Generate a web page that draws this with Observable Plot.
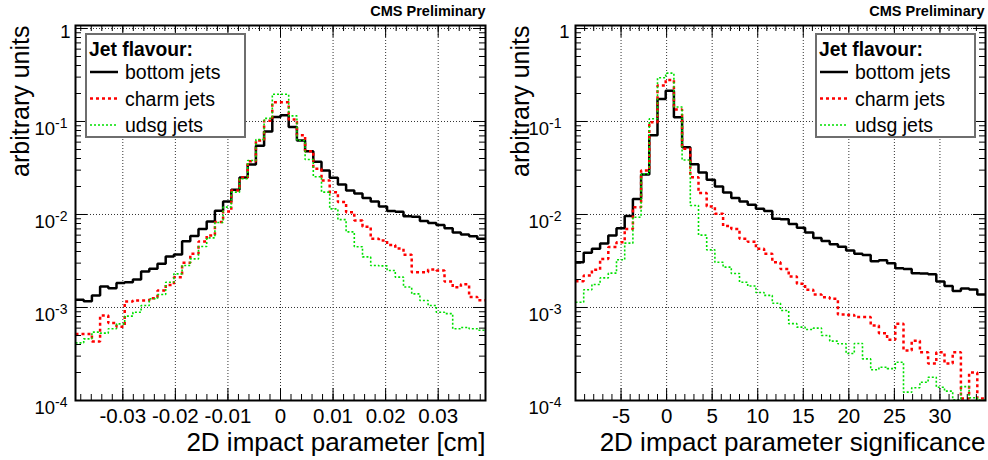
<!DOCTYPE html>
<html><head><meta charset="utf-8">
<script src="https://cdn.jsdelivr.net/npm/d3@7"></script>
<script src="https://cdn.jsdelivr.net/npm/@observablehq/plot@0.6"></script>
<style>
body{margin:0;background:#fff;}
#wrap{display:flex;width:988px;height:460px;font-family:"Liberation Sans",Arial,Helvetica,sans-serif;}
.panel{position:relative;width:494px;height:460px;}
</style></head><body><div id="wrap"></div>
<script>
// ---------- data ----------
const seriesNames = ["bottom jets", "charm jets", "udsg jets"];
const legendTitle = "Jet flavour:";
const cmsLabel = "CMS Preliminary";
const yTitle = "arbitrary units";

// left panel: 2D impact parameter [cm], 50 bins in [-0.039, 0.039]
const ipRange = [-0.039, 0.039];
const ipBins = 50;
const ipTitle = "2D impact parameter [cm]";
const ipTicks = [-0.03, -0.02, -0.01, 0, 0.01, 0.02, 0.03];
const ipTickLabels = ["-0.03", "-0.02", "-0.01", "0", "0.01", "0.02", "0.03"];
const ipBottom = [1.21e-3,1.17e-3,1.35e-3,1.68e-3,1.61e-3,1.83e-3,1.87e-3,2.0e-3,2.44e-3,2.61e-3,
  2.95e-3,3.53e-3,3.71e-3,5.16e-3,5.89e-3,7.0e-3,8.4e-3,1.1e-2,1.38e-2,1.84e-2,
  2.5e-2,3.45e-2,5.5e-2,7.8e-2,0.112,0.117,8.7e-2,6.25e-2,4.8e-2,3.68e-2,
  2.97e-2,2.48e-2,2.1e-2,1.81e-2,1.68e-2,1.5e-2,1.38e-2,1.22e-2,1.09e-2,1.07e-2,
  9.6e-3,9.45e-3,8.5e-3,8.1e-3,7.7e-3,7.1e-3,6.4e-3,6.1e-3,5.85e-3,5.47e-3];
const ipCharm = [5.2e-4,5.2e-4,4.3e-4,8.2e-4,6.8e-4,6.2e-4,1.16e-3,1.19e-3,1.19e-3,1.26e-3,
  1.52e-3,1.75e-3,2.12e-3,3.02e-3,3.78e-3,5.13e-3,5.94e-3,8.28e-3,1.08e-2,1.81e-2,
  2.5e-2,3.74e-2,6.25e-2,0.102,0.161,0.161,0.105,7.1e-2,4.8e-2,3.1e-2,
  2.32e-2,1.74e-2,1.36e-2,1.06e-2,8.6e-3,7.4e-3,5.47e-3,5.25e-3,4.7e-3,4.3e-3,
  3.7e-3,2.4e-3,2.4e-3,2.57e-3,2.5e-3,1.9e-3,1.65e-3,1.78e-3,1.3e-3,1.2e-3];
const ipUdsg = [4.17e-4,4.6e-4,5.43e-4,5.3e-4,5.9e-4,6.67e-4,8.07e-4,8.9e-4,1.05e-3,1.24e-3,
  1.38e-3,1.87e-3,2.3e-3,2.83e-3,3.33e-3,4.53e-3,5.6e-3,8.2e-3,1.2e-2,1.74e-2,
  2.42e-2,3.81e-2,6.4e-2,0.108,0.196,0.196,0.115,6.25e-2,3.9e-2,2.55e-2,
  1.74e-2,1.15e-2,8.8e-3,6.5e-3,4.5e-3,3.5e-3,2.83e-3,2.8e-3,2.5e-3,2.12e-3,
  1.66e-3,1.4e-3,1.19e-3,1.05e-3,8.9e-4,8.6e-4,5.9e-4,6.1e-4,5.9e-4,5.7e-4];

// right panel: 2D impact parameter significance, 50 bins in [-10, 35]
const sigRange = [-10, 35];
const sigBins = 50;
const sigTitle = "2D impact parameter significance";
const sigTicks = [-5, 0, 5, 10, 15, 20, 25, 30];
const sigTickLabels = ["-5", "0", "5", "10", "15", "20", "25", "30"];
const sigBottom = [3.07e-3,3.87e-3,4.27e-3,4.88e-3,5.94e-3,7.13e-3,9.65e-3,1.47e-2,2.7e-2,7.1e-2,
  0.175,0.214,0.111,5.3e-2,3.47e-2,2.82e-2,2.37e-2,2.0e-2,1.72e-2,1.5e-2,
  1.38e-2,1.27e-2,1.15e-2,1.09e-2,9.0e-3,8.9e-3,7.9e-3,7.2e-3,6.4e-3,5.6e-3,
  5.2e-3,4.8e-3,4.5e-3,4.1e-3,3.78e-3,3.68e-3,3.15e-3,3.22e-3,3.0e-3,2.65e-3,
  2.6e-3,2.33e-3,2.32e-3,2.28e-3,1.9e-3,1.7e-3,1.5e-3,1.6e-3,1.56e-3,1.38e-3];
const sigCharm = [1.92e-3,2.21e-3,2.54e-3,3.33e-3,4.46e-3,5.04e-3,7.0e-3,1.2e-2,2.97e-2,9.84e-2,
  0.244,0.28,0.135,5.08e-2,2.52e-2,1.7e-2,1.22e-2,1.02e-2,7.5e-3,7.0e-3,
  5.47e-3,5.1e-3,4.27e-3,3.78e-3,3.07e-3,2.6e-3,2.15e-3,1.8e-3,1.55e-3,1.38e-3,
  1.29e-3,1.24e-3,8.4e-4,8.3e-4,7.9e-4,7.9e-4,6.4e-4,5.3e-4,4.5e-4,6.7e-4,
  3.45e-4,4.4e-4,3.3e-4,2.5e-4,3.3e-4,2.5e-4,3.3e-4,1.05e-4,2.0e-4,1.05e-4];
const sigUdsg = [1.14e-3,1.55e-3,1.77e-3,2.08e-3,2.34e-3,3.26e-3,4.92e-3,9.35e-3,2.74e-2,0.107,
  0.295,0.331,0.143,3.85e-2,1.25e-2,6.0e-3,4.17e-3,3.07e-3,2.72e-3,2.32e-3,
  1.87e-3,1.7e-3,1.45e-3,1.35e-3,1.11e-3,9.3e-4,6.7e-4,6.15e-4,5.8e-4,6.0e-4,
  5.0e-4,4.35e-4,4.07e-4,3.2e-4,4.1e-4,2.8e-4,2.14e-4,2.28e-4,2.2e-4,2.58e-4,
  1.23e-4,1.37e-4,1.57e-4,1.78e-4,1.39e-4,1.26e-4,1.02e-4,1.41e-4,1.07e-4,1.01e-4];

const yTicks = [1e-4, 1e-3, 1e-2, 1e-1, 1];
const yTickLabels = ["10^-4", "10^-3", "10^-2", "10^-1", "1"];

// ---------- styles ----------
const FONT = '"Liberation Sans", Arial, Helvetica, sans-serif';
const styles = [
  {stroke: "#000000", strokeWidth: 2.5, dash: null},
  {stroke: "#ff0000", strokeWidth: 2.5, dash: "3,3"},
  {stroke: "#00e000", strokeWidth: 1.6, dash: "2,2"}
];
const NS = "http://www.w3.org/2000/svg";

function histData(range, nb, values) {
  const w = (range[1] - range[0]) / nb;
  const pts = values.map((v, i) => ({x: range[0] + i * w, y: v}));
  pts.push({x: range[1], y: values[values.length - 1]});
  return pts;
}

function panel(cfg) {
  const W = 494, H = 460, mt = 25, mb = 60;
  const iw = W - cfg.ml - cfg.mr, ih = H - mt - mb;
  const majLen = 12, minLen = 6;
  const yMinor = [1e-4, 1e-3, 1e-2, 1e-1].flatMap(d => d3.range(2, 10).map(k => k * d));
  const labelMap = new Map(cfg.ticks.map((t, i) => [t, cfg.tickLabels[i]]));
  const yLabelMap = new Map(yTicks.map((t, i) => [t, yTickLabels[i]]));
  const tickStyle = {stroke: "black", strokeWidth: 1};
  const marks = [
    Plot.gridX(cfg.ticks, {stroke: "#333", strokeOpacity: 1, strokeWidth: 1, strokeDasharray: "1,2"}),
    Plot.gridY(yTicks, {stroke: "#333", strokeOpacity: 1, strokeWidth: 1, strokeDasharray: "1,2"}),
    ...cfg.series.map((vals, k) => Plot.line(histData(cfg.range, cfg.bins, vals), {
      x: "x", y: "y", curve: "step-after", clip: true,
      stroke: styles[k].stroke, strokeWidth: styles[k].strokeWidth,
      strokeDasharray: styles[k].dash, strokeLinejoin: "miter", strokeLinecap: "butt"
    })),
    // inward ticks on all four sides
    Plot.tickY(yTicks, {y: d => d, insetRight: iw - majLen, ...tickStyle}),
    Plot.tickY(yMinor, {y: d => d, insetRight: iw - minLen, ...tickStyle}),
    Plot.tickY(yTicks, {y: d => d, insetLeft: iw - majLen, ...tickStyle}),
    Plot.tickY(yMinor, {y: d => d, insetLeft: iw - minLen, ...tickStyle}),
    Plot.tickX(cfg.ticks, {x: d => d, insetTop: ih - majLen, ...tickStyle}),
    Plot.tickX(cfg.minor, {x: d => d, insetTop: ih - minLen, ...tickStyle}),
    Plot.tickX(cfg.ticks, {x: d => d, insetBottom: ih - majLen, ...tickStyle}),
    Plot.tickX(cfg.minor, {x: d => d, insetBottom: ih - minLen, ...tickStyle}),
    Plot.frame({stroke: "black", strokeWidth: 2}),
    // tick labels
    Plot.text(cfg.ticks, {x: d => d, text: d => labelMap.get(d), frameAnchor: "bottom", dy: 7.5, lineAnchor: "top", fontSize: 20.5}),
    Plot.text(yTicks, {y: d => d, text: d => yLabelMap.get(d), frameAnchor: "left", textAnchor: "end", lineAnchor: "middle", dx: -cfg.yPad, fontSize: 18.5}),
    // titles
    Plot.text([cfg.title], {text: d => d, frameAnchor: "bottom-right", dy: 50.5, lineAnchor: "bottom", textAnchor: "end", fontSize: 26}),
    Plot.text([yTitle], {text: d => d, frameAnchor: "top-left", rotate: -90, textAnchor: "end", lineAnchor: "bottom", dx: -47, fontSize: 25}),
    Plot.text([cmsLabel], {text: d => d, frameAnchor: "top-right", dy: -10, dx: cfg.cmsDx, lineAnchor: "bottom", textAnchor: "end", fontSize: 14.5, fontWeight: "bold"})
  ];
  const svg = Plot.plot({
    width: W, height: H, marginLeft: cfg.ml, marginRight: cfg.mr, marginTop: mt, marginBottom: mb,
    x: {domain: cfg.range, axis: null},
    y: {type: "log", domain: [1e-4, 1.077], axis: null},
    style: {fontFamily: FONT, fontSize: "19px", color: "black", background: "white"},
    marks
  });
  // superscript exponents on the y tick labels
  const ySet = new Set(yTickLabels);
  svg.querySelectorAll("text").forEach(t => {
    const s = t.textContent;
    if (!ySet.has(s)) return;
    const m = /^10\^(.+)$/.exec(s);
    if (m) {
      t.textContent = "";
      const a = document.createElementNS(NS, "tspan");
      a.setAttribute("dy", "8"); a.textContent = "10";
      const b = document.createElementNS(NS, "tspan");
      b.setAttribute("dy", "-7.5"); b.setAttribute("font-size", "14"); b.textContent = m[1];
      t.append(a, b);
    } else {
      t.setAttribute("dy", "4"); t.setAttribute("dx", String(cfg.oneDx));
    }
  });
  const div = document.createElement("div");
  div.className = "panel";
  div.appendChild(svg);
  div.appendChild(legend(cfg.legendLeft));
  return div;
}

function legend(left) {
  const svg = document.createElementNS(NS, "svg");
  svg.setAttribute("width", 161); svg.setAttribute("height", 105);
  svg.style.position = "absolute"; svg.style.left = left + "px"; svg.style.top = "33px";
  svg.style.fontFamily = FONT;
  const r = document.createElementNS(NS, "rect");
  r.setAttribute("x", 1); r.setAttribute("y", 1); r.setAttribute("width", 159); r.setAttribute("height", 103);
  r.setAttribute("fill", "white"); r.setAttribute("stroke", "#6e6e6e"); r.setAttribute("stroke-width", 2);
  svg.appendChild(r);
  const t = document.createElementNS(NS, "text");
  t.setAttribute("x", 4); t.setAttribute("y", 22.5); t.setAttribute("font-size", 19.3); t.setAttribute("font-weight", "bold");
  t.textContent = legendTitle;
  svg.appendChild(t);
  seriesNames.forEach((name, i) => {
    const y = 39 + i * 26.5;
    const l = document.createElementNS(NS, "line");
    l.setAttribute("x1", 5); l.setAttribute("x2", 33); l.setAttribute("y1", y); l.setAttribute("y2", y);
    l.setAttribute("stroke", styles[i].stroke); l.setAttribute("stroke-width", styles[i].strokeWidth);
    if (styles[i].dash) l.setAttribute("stroke-dasharray", styles[i].dash);
    svg.appendChild(l);
    const tx = document.createElementNS(NS, "text");
    tx.setAttribute("x", 40); tx.setAttribute("y", y + 7); tx.setAttribute("font-size", 19.5);
    tx.textContent = name;
    svg.appendChild(tx);
  });
  return svg;
}

const wrap = document.getElementById("wrap");
wrap.appendChild(panel({
  ml: 75, mr: 9, range: ipRange, bins: ipBins, title: ipTitle,
  ticks: ipTicks, tickLabels: ipTickLabels,
  minor: d3.range(-19, 20).map(k => k * 0.002),
  series: [ipBottom, ipCharm, ipUdsg], yPad: 8, oneDx: 3, cmsDx: 0, legendLeft: 85
}));
wrap.appendChild(panel({
  ml: 81, mr: 3, range: sigRange, bins: sigBins, title: sigTitle,
  ticks: sigTicks, tickLabels: sigTickLabels,
  minor: d3.range(-10, 36),
  series: [sigBottom, sigCharm, sigUdsg], yPad: 14, oneDx: 8, cmsDx: -1, legendLeft: 321
}));
</script></body></html>
